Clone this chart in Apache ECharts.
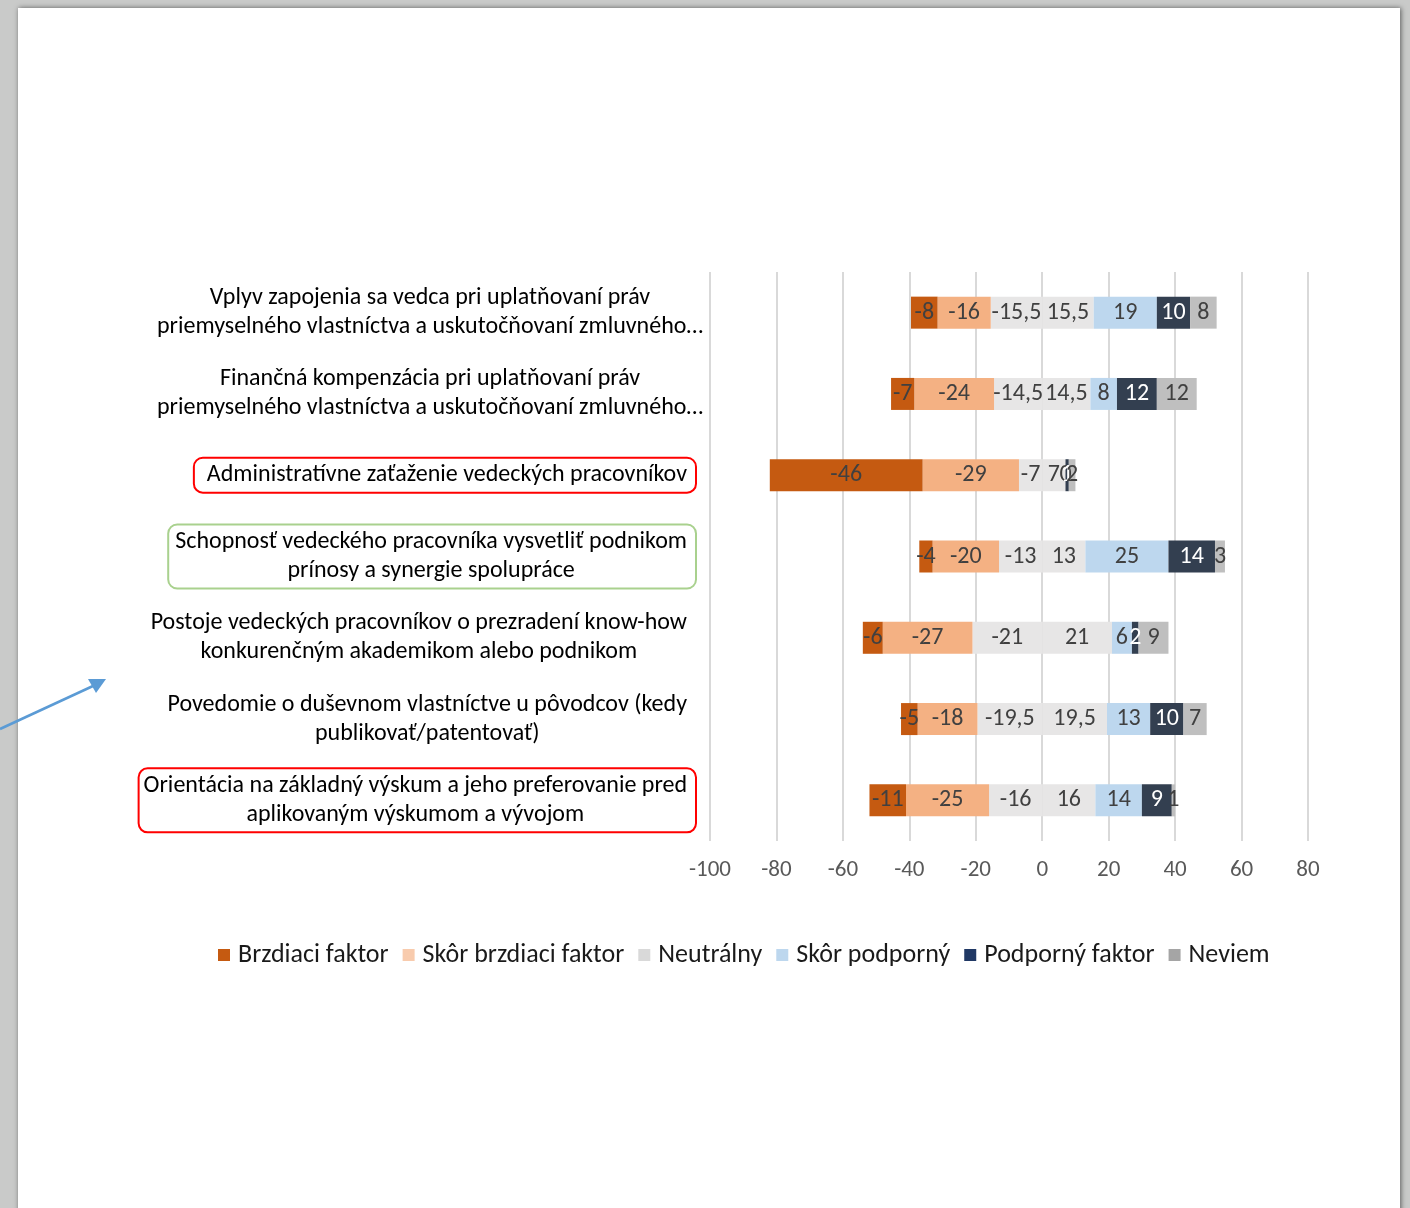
<!DOCTYPE html>
<html>
<head>
<meta charset="utf-8">
<script src="https://cdn.jsdelivr.net/npm/echarts@6/dist/echarts.min.js"></script>
<style>
html,body{margin:0;padding:0;background:#c9cac9;}
#chart{width:1410px;height:1208px;}
</style>
</head>
<body>
<div id="chart"></div>
<script>
var categories = [
  'Vplyv zapojenia sa vedca pri uplatňovaní práv\npriemyselného vlastníctva a uskutočňovaní zmluvného…',
  'Finančná kompenzácia pri uplatňovaní práv\npriemyselného vlastníctva a uskutočňovaní zmluvného…',
  'Administratívne zaťaženie vedeckých pracovníkov',
  'Schopnosť vedeckého pracovníka vysvetliť podnikom\nprínosy a synergie spolupráce',
  'Postoje vedeckých pracovníkov o prezradení know-how\nkonkurenčným akademikom alebo podnikom',
  'Povedomie o duševnom vlastníctve u pôvodcov (kedy\npublikovať/patentovať)',
  'Orientácia na základný výskum a jeho preferovanie pred\naplikovaným výskumom a vývojom'
];
var brzdiaci      = [-8, -7, -46, -4, -6, -5, -11];
var skorBrzdiaci  = [-16, -24, -29, -20, -27, -18, -25];
var neutralNeg    = [-15.5, -14.5, -7, -13, -21, -19.5, -16];
var neutralPos    = [15.5, 14.5, 7, 13, 21, 19.5, 16];
var skorPodporny  = [19, 8, 0, 25, 6, 13, 14];
var podporny      = [10, 12, 1, 14, 2, 10, 9];
var neviem        = [8, 12, 2, 3, 9, 7, 1];
var xTicks = {min: -100, max: 80, interval: 20};
var legendNames = ['Brzdiaci faktor', 'Skôr brzdiaci faktor', 'Neutrálny', 'Skôr podporný', 'Podporný faktor', 'Neviem'];

var FONT = 'Carlito, Lato, "Noto Sans", sans-serif';
var LABEL_SIZE = 24;
var labelBox = {
  0: {padding: [0, -7, 0, 0]},
  1: {padding: [0, -7, 0, 0]},
  2: {borderColor: '#ff0000', padding: [3, 9, 3, 13]},
  3: {borderColor: '#a9d18e', padding: [3, 9, 3, 7]},
  4: {padding: [0, 9, 0, 0]},
  5: {padding: [0, 9, 0, 0]},
  6: {borderColor: '#ff0000', padding: [3, 9, 3, 5]}
};
var yData = categories.map(function (c, i) {
  var b = labelBox[i];
  var ts = {align: 'right', padding: b.padding};
  if (b.borderColor) {
    ts.borderColor = b.borderColor;
    ts.borderWidth = 2;
    ts.borderRadius = 9;
  }
  return {value: c, textStyle: ts};
});

function fmt(p) { return String(p.value).replace('.', ','); }
function mk(name, data, color, labelColor) {
  return {
    name: name, type: 'bar', stack: 'total', data: data, barWidth: 32,
    itemStyle: {color: color},
    label: {show: true, position: 'inside', formatter: fmt, fontSize: 24,
      fontFamily: FONT, color: labelColor || '#404040'},
    emphasis: {disabled: true}
  };
}

var chart = echarts.init(document.getElementById('chart'), null, {renderer: 'canvas'});
chart.setOption({
  animation: false,
  backgroundColor: '#c9cac9',
  textStyle: {fontFamily: FONT},
  graphic: [
    {type: 'rect', z: -10, shape: {x: 18, y: 8, width: 1382, height: 1230},
      style: {fill: '#ffffff', shadowBlur: 5, shadowColor: 'rgba(0,0,0,0.55)', shadowOffsetX: 1, shadowOffsetY: 0}},
    {type: 'line', z: 100, shape: {x1: 0, y1: 729, x2: 93, y2: 686},
      style: {stroke: '#5b9bd5', lineWidth: 2.5}},
    {type: 'polygon', z: 100, shape: {points: [[106, 679], [88, 679], [96, 693]]},
      style: {fill: '#5b9bd5'}}
  ],
  grid: {left: 710, right: 102, top: 272, bottom: 367, containLabel: false, outerBoundsMode: 'none'},
  legend: {
    left: 213, top: 937, itemWidth: 12, itemHeight: 12, itemGap: 14, icon: 'rect',
    textStyle: {fontSize: 26, color: '#1a1a1a', fontFamily: FONT, padding: [0, 0, 0, 3]},
    data: [
      {name: legendNames[0], itemStyle: {color: '#c55a11'}},
      {name: legendNames[1], itemStyle: {color: '#f8cbad'}},
      {name: legendNames[2], itemStyle: {color: '#d9d9d9'}},
      {name: legendNames[3], itemStyle: {color: '#bdd7ee'}},
      {name: legendNames[4], itemStyle: {color: '#203864'}},
      {name: legendNames[5], itemStyle: {color: '#a5a5a5'}}
    ]
  },
  xAxis: {
    type: 'value', min: xTicks.min, max: xTicks.max, interval: xTicks.interval,
    axisLine: {show: false}, axisTick: {show: false},
    splitLine: {show: true, lineStyle: {color: '#d9d9d9', width: 2}},
    axisLabel: {fontSize: 23, color: '#595959', margin: 18, fontFamily: FONT}
  },
  yAxis: {
    type: 'category', inverse: true, data: yData,
    axisLine: {show: false}, axisTick: {show: false}, splitLine: {show: false},
    axisLabel: {
      fontSize: LABEL_SIZE, lineHeight: 29, color: '#000000', align: 'right', margin: 14,
      fontFamily: FONT, interval: 0,
      formatter: function (v) {
        return v.split('\n').map(function (l) { return '{c|' + l + '}'; }).join('\n');
      },
      rich: {c: {align: 'center', fontSize: LABEL_SIZE, lineHeight: 29, color: '#000000', fontFamily: FONT}}
    }
  },
  series: [
    mk(legendNames[2], neutralNeg, '#e7e6e6'),
    mk(legendNames[1], skorBrzdiaci, '#f4b183'),
    mk(legendNames[0], brzdiaci, '#c55a11'),
    mk(legendNames[2], neutralPos, '#e7e6e6'),
    mk(legendNames[3], skorPodporny, '#bdd7ee'),
    mk(legendNames[4], podporny, '#333f50', '#ffffff'),
    mk(legendNames[5], neviem, '#bfbfbf')
  ]
});
</script>
</body>
</html>
